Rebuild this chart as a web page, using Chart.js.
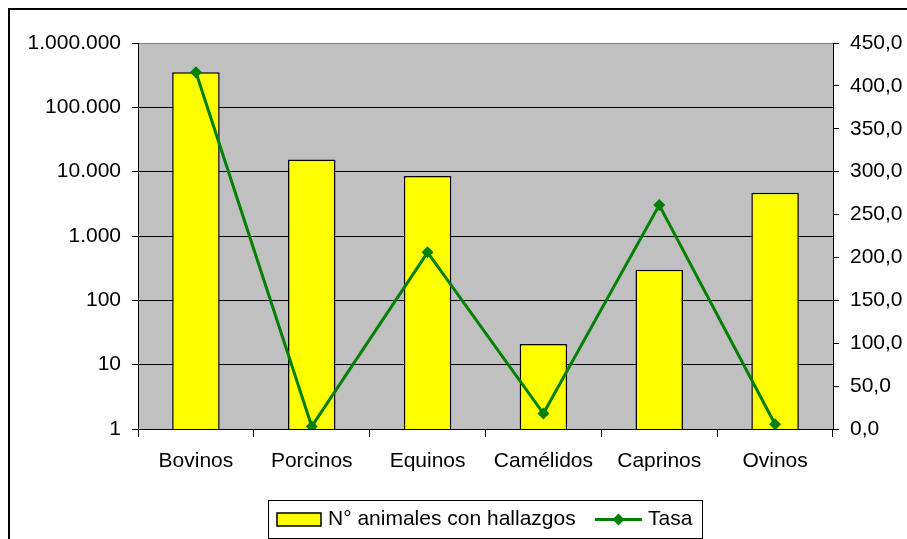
<!DOCTYPE html>
<html>
<head>
<meta charset="utf-8">
<script src="https://cdn.jsdelivr.net/npm/chart.js@4"></script>
<style>
  body { margin: 0; background: #fff; }
</style>
</head>
<body>
<canvas id="chart" width="907" height="539"></canvas>
<script>
const categories = ['Bovinos', 'Porcinos', 'Equinos', 'Camélidos', 'Caprinos', 'Ovinos'];
const hallazgos = [350000, 15500, 8600, 21, 300, 4700];
const tasa = [416, 3, 206, 18, 261, 5.5];
const leftTicks = [1, 10, 100, 1000, 10000, 100000, 1000000];
const rightTicks = [0, 50, 100, 150, 200, 250, 300, 350, 400, 450];

const FONT = { family: '"Liberation Sans", Arial, sans-serif', size: 21 };

const fmtThousands = v => String(v).replace(/\B(?=(\d{3})+(?!\d))/g, '.');
const fmtComma = v => v.toFixed(1).replace('.', ',');

const decorPlugin = {
  id: 'decor',
  beforeDraw(chart) {
    const { ctx, chartArea: a } = chart;
    ctx.save();
    ctx.fillStyle = '#C0C0C0';
    ctx.fillRect(a.left, a.top, a.right - a.left, a.bottom - a.top);
    ctx.restore();
  },
  afterDraw(chart) {
    const ctx = chart.ctx;
    ctx.save();
    // outer frame (cropped on right and bottom)
    ctx.strokeStyle = '#000';
    ctx.lineWidth = 2;
    ctx.strokeRect(9, 9, 1000, 1000);

    // legend box
    const bx = 268.5, by = 500.5, bw = 434, bh = 38;
    ctx.lineWidth = 1;
    ctx.strokeRect(bx, by, bw, bh);
    const cy = 519.5;
    ctx.font = FONT.size + 'px ' + FONT.family;
    ctx.textBaseline = 'middle';
    ctx.fillStyle = '#000';

    // bar entry
    const ds0 = chart.data.datasets[0];
    ctx.fillStyle = ds0.backgroundColor;
    ctx.fillRect(277, 513, 44, 13);
    ctx.strokeStyle = '#000';
    ctx.lineWidth = 1.5;
    ctx.strokeRect(277, 513, 44, 13);
    ctx.fillStyle = '#000';
    ctx.fillText(ds0.label, 328, cy);

    // line entry
    const ds1 = chart.data.datasets[1];
    ctx.strokeStyle = ds1.borderColor;
    ctx.lineWidth = 3;
    ctx.beginPath();
    ctx.moveTo(595, cy);
    ctx.lineTo(642, cy);
    ctx.stroke();
    ctx.fillStyle = ds1.borderColor;
    ctx.beginPath();
    ctx.moveTo(618.5, cy - 6);
    ctx.lineTo(624.5, cy);
    ctx.lineTo(618.5, cy + 6);
    ctx.lineTo(612.5, cy);
    ctx.closePath();
    ctx.fill();
    ctx.fillStyle = '#000';
    ctx.fillText(ds1.label, 648, cy);
    ctx.restore();
  }
};

new Chart(document.getElementById('chart'), {
  type: 'bar',
  data: {
    labels: categories,
    datasets: [
      {
        type: 'bar',
        label: 'N° animales con hallazgos',
        data: hallazgos,
        yAxisID: 'y',
        backgroundColor: '#FFFF00',
        borderColor: '#000',
        borderWidth: 1.5,
        categoryPercentage: 1,
        barPercentage: 0.41,
        order: 2
      },
      {
        type: 'line',
        label: 'Tasa',
        data: tasa,
        yAxisID: 'y1',
        borderColor: '#008000',
        backgroundColor: '#008000',
        borderWidth: 3,
        pointStyle: 'rectRot',
        pointRadius: 6,
        pointBorderWidth: 0,
        tension: 0,
        order: 1
      }
    ]
  },
  options: {
    responsive: false,
    animation: false,
    layout: { padding: { top: 43, left: 0, right: 0, bottom: 0 } },
    plugins: {
      legend: { display: false },
      tooltip: { enabled: false }
    },
    scales: {
      x: {
        grid: { display: true, drawOnChartArea: false, tickLength: 8, color: '#000', offset: true },
        border: { display: true, color: '#000', width: 1 },
        ticks: { color: '#000', font: FONT, padding: 12, maxRotation: 0 },
        afterFit: s => { s.height = 110; }
      },
      y: {
        type: 'logarithmic',
        position: 'left',
        min: 1,
        max: 1000000,
        grid: {
          color: c => (c.tick && c.tick.value === 1000000 ? '#808080' : '#000'),
          tickColor: '#000',
          tickLength: 6,
          lineWidth: 1
        },
        border: { display: true, color: '#000', width: 1 },
        ticks: { color: '#000', font: FONT, padding: 11, callback: v => fmtThousands(v) },
        afterBuildTicks: s => { s.ticks = leftTicks.map(v => ({ value: v })); },
        afterFit: s => { s.width = 138; }
      },
      y1: {
        type: 'linear',
        position: 'right',
        min: 0,
        max: 450,
        grid: { drawOnChartArea: false, tickLength: 6, color: '#000' },
        border: { display: true, color: '#000', width: 1 },
        ticks: { color: '#000', font: FONT, padding: 11, callback: v => fmtComma(v) },
        afterBuildTicks: s => { s.ticks = rightTicks.map(v => ({ value: v })); },
        afterFit: s => { s.width = 74; }
      }
    }
  },
  plugins: [decorPlugin]
});
</script>
</body>
</html>
